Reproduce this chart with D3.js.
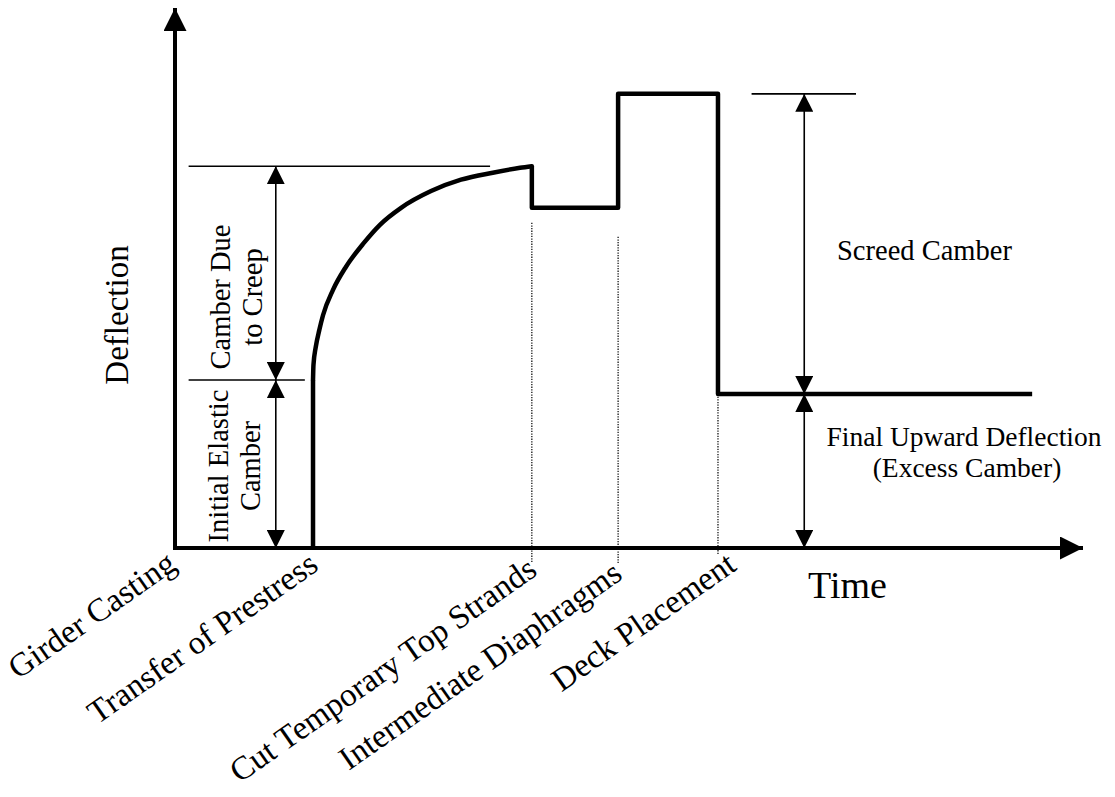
<!DOCTYPE html>
<html>
<head>
<meta charset="utf-8">
<script src="https://cdn.jsdelivr.net/npm/d3@7"></script>
<style>
  body { margin: 0; background: #fff; }
  text { font-family: "Liberation Serif", "Times New Roman", serif; fill: #000; }
</style>
</head>
<body>
<div id="chart"></div>
<script>
// events along the time axis (arbitrary time units)
var events = ["Girder Casting", "Transfer of Prestress", "Cut Temporary Top Strands", "Intermediate Diaphragms", "Deck Placement"];
var eventTimes = [0, 15.2, 39.3, 48.8, 59.8];
var endTime = 94.4;

// creep curve after transfer (time, deflection)
var creepTime = [15.2, 15.25, 15.5, 15.9, 16.3, 17.4, 18.8, 20.8, 22.6, 24.9, 28.2, 31.5, 35.0, 38.0, 39.3];
var creepDefl = [31.1, 33.9, 37.2, 40.4, 43.1, 47.8, 52.0, 56.5, 59.9, 63.0, 66.1, 68.2, 69.5, 70.4, 70.7];

// deflection levels
var elasticCamber = 31.1;   // at transfer
var creepCamber = 70.7;     // before cutting top strands
var afterCut = 63.0;
var afterDiaphragms = 84.1;
var finalDefl = 28.5;

var width = 1115, height = 797;

var x = d3.scaleLinear().domain([0, 100]).range([175, 1083]);
var y = d3.scaleLinear().domain([0, 100]).range([548, 8]);

var svg = d3.select("#chart").append("svg")
    .attr("width", width)
    .attr("height", height);

var defs = svg.append("defs");
function arrowMarker(id, size) {
  defs.append("marker")
      .attr("id", id)
      .attr("markerUnits", "userSpaceOnUse")
      .attr("markerWidth", size)
      .attr("markerHeight", size)
      .attr("refX", size)
      .attr("refY", size / 2)
      .attr("orient", "auto-start-reverse")
    .append("path")
      .attr("d", "M0,0 L" + size + "," + (size / 2) + " L0," + size + " Z")
      .attr("fill", "#000");
}
arrowMarker("axisArrow", 23);
arrowMarker("dimArrow", 18);

// axes
svg.append("line")
    .attr("x1", x(0)).attr("y1", y(0) + 2)
    .attr("x2", x(0)).attr("y2", y(100))
    .attr("stroke", "#000").attr("stroke-width", 4)
    .attr("marker-end", "url(#axisArrow)");
svg.append("line")
    .attr("x1", x(0) - 2).attr("y1", y(0))
    .attr("x2", x(100)).attr("y2", y(0))
    .attr("stroke", "#000").attr("stroke-width", 4)
    .attr("marker-end", "url(#axisArrow)");

// dotted guides below the events (pixel spans)
var guides = [
  {t: eventTimes[2], from: y(afterCut) + 15, to: y(0) + 15},
  {t: eventTimes[3], from: y(afterCut) + 29, to: y(0) + 15},
  {t: eventTimes[4], from: y(finalDefl), to: y(0) + 7}
];
svg.selectAll(".guide")
    .data(guides)
    .enter().append("line")
    .attr("class", "guide")
    .attr("x1", function(d) { return x(d.t); })
    .attr("x2", function(d) { return x(d.t); })
    .attr("y1", function(d) { return d.from; })
    .attr("y2", function(d) { return d.to; })
    .attr("stroke", "#000")
    .attr("stroke-width", 1.2)
    .attr("stroke-dasharray", "1.3,1.3");

// extension lines for the dimensions
var ext = [
  {y: creepCamber, x1: 1.5, x2: 34.7},
  {y: elasticCamber, x1: 1.5, x2: 14.3},
  {y: afterDiaphragms, x1: 63.5, x2: 75.0}
];
svg.selectAll(".ext")
    .data(ext)
    .enter().append("line")
    .attr("class", "ext")
    .attr("x1", function(d) { return x(d.x1); })
    .attr("x2", function(d) { return x(d.x2); })
    .attr("y1", function(d) { return y(d.y); })
    .attr("y2", function(d) { return y(d.y); })
    .attr("stroke", "#000")
    .attr("stroke-width", 1.6);

// dimension arrows
var dims = [
  {t: 11.1, lo: 0, hi: elasticCamber},
  {t: 11.1, lo: elasticCamber, hi: creepCamber},
  {t: 69.3, lo: 0, hi: finalDefl},
  {t: 69.3, lo: finalDefl, hi: afterDiaphragms}
];
svg.selectAll(".dim")
    .data(dims)
    .enter().append("line")
    .attr("class", "dim")
    .attr("x1", function(d) { return x(d.t); })
    .attr("x2", function(d) { return x(d.t); })
    .attr("y1", function(d) { return y(d.lo); })
    .attr("y2", function(d) { return y(d.hi); })
    .attr("stroke", "#000")
    .attr("stroke-width", 1.6)
    .attr("marker-start", "url(#dimArrow)")
    .attr("marker-end", "url(#dimArrow)");

// deflection history
var creep = creepTime.map(function(t, i) { return [t, creepDefl[i]]; });
var steps = [
  [eventTimes[2], creepCamber], [eventTimes[2], afterCut],
  [eventTimes[3], afterCut], [eventTimes[3], afterDiaphragms],
  [eventTimes[4], afterDiaphragms], [eventTimes[4], finalDefl],
  [endTime, finalDefl]
];
var line = d3.line()
    .x(function(d) { return x(d[0]); })
    .y(function(d) { return y(d[1]); });

svg.append("path")
    .attr("d", line([[eventTimes[1], 0], [eventTimes[1], elasticCamber]]))
    .attr("fill", "none").attr("stroke", "#000").attr("stroke-width", 4.5);
svg.append("path")
    .attr("d", line.curve(d3.curveMonotoneX)(creep))
    .attr("fill", "none").attr("stroke", "#000").attr("stroke-width", 4.5)
    .attr("stroke-linecap", "round");
svg.append("path")
    .attr("d", line.curve(d3.curveLinear)(steps))
    .attr("fill", "none").attr("stroke", "#000").attr("stroke-width", 4.5)
    .attr("stroke-linejoin", "round").attr("stroke-linecap", "butt");

// event labels, rotated, ending at the event
var nudge = [[3, 20], [7, 21], [7, 26], [6, 30], [20, 21]];
svg.selectAll(".evt")
    .data(events)
    .enter().append("text")
    .attr("class", "evt")
    .attr("text-anchor", "end")
    .style("font-size", "33px")
    .attr("transform", function(d, i) {
      return "translate(" + (x(eventTimes[i]) + nudge[i][0]) + "," + (y(0) + nudge[i][1]) + ") rotate(-35)";
    })
    .text(function(d) { return d; });

// axis titles
svg.append("text")
    .attr("transform", "translate(128,315) rotate(-90)")
    .attr("text-anchor", "middle")
    .style("font-size", "33px")
    .text("Deflection");
svg.append("text")
    .attr("x", 808).attr("y", 598)
    .style("font-size", "38px")
    .text("Time");

// dimension labels
function rotLabel(lines, bx, cy) {
  lines.forEach(function(s, i) {
    svg.append("text")
        .attr("transform", "translate(" + (bx + i * 32) + "," + cy + ") rotate(-90)")
        .attr("text-anchor", "middle")
        .style("font-size", "28.5px")
        .text(s);
  });
}
rotLabel(["Camber Due", "to Creep"], 230, 297);
rotLabel(["Initial Elastic", "Camber"], 228, 466);

svg.append("text")
    .attr("x", 837).attr("y", 260)
    .style("font-size", "28.5px")
    .text("Screed Camber");
svg.append("text")
    .attr("x", 964).attr("y", 446)
    .attr("text-anchor", "middle")
    .style("font-size", "27.5px")
    .text("Final Upward Deflection");
svg.append("text")
    .attr("x", 967).attr("y", 477)
    .attr("text-anchor", "middle")
    .style("font-size", "27.5px")
    .text("(Excess Camber)");
</script>
</body>
</html>
